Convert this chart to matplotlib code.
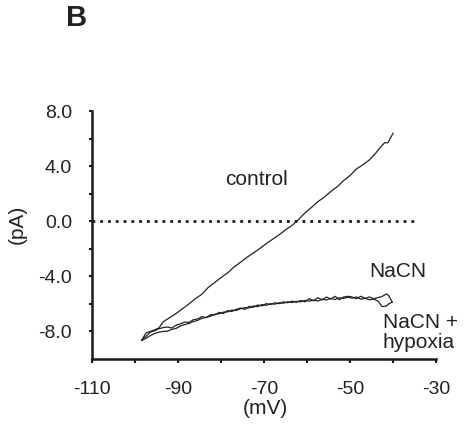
import matplotlib
matplotlib.use("Agg")
import matplotlib.pyplot as plt
from matplotlib.ticker import FixedLocator

plt.rcParams['font.family'] = ['Liberation Sans', 'DejaVu Sans']

# ---------------- data ----------------
control_v = [-98.5, -97.5, -96, -94.5, -93.5, -92, -90.5, -89, -87.5, -86, -84.5, -83,
             -81.5, -80, -78.5, -77, -75.5, -74, -72.5, -71, -69.5, -68, -66.5, -65,
             -63.5, -62, -60.5, -59, -57.5, -56, -54.5, -53, -51.5, -50, -48.5, -47,
             -45.5, -44, -43, -42, -41.2, -40]
control_i = [-8.65, -8.1, -7.95, -7.75, -7.3, -7.0, -6.7, -6.35, -6.0, -5.62, -5.3, -4.8,
             -4.45, -4.08, -3.75, -3.32, -2.98, -2.62, -2.3, -1.98, -1.62, -1.3, -0.98, -0.62,
             -0.3, 0.12, 0.6, 1.0, 1.42, 1.75, 2.15, 2.5, 2.95, 3.32, 3.8, 4.1,
             4.45, 4.95, 5.35, 5.69, 5.7, 6.38]

nacn_v = [-98.5, -97.5, -96.5, -95.5, -94.5, -93.5, -92.5, -91.5, -90.5, -89.5, -88.5, -87.5,
          -86.5, -85.5, -84.5, -83.5, -82.5, -81.5, -80.5, -79.5, -78.5, -77.5, -76.5, -75.5,
          -74.5, -73.5, -72.5, -71.5, -70.5, -69.5, -68.5, -67.5, -66.5, -65.5, -64.5, -63.5,
          -62.5, -61.5, -60.5, -59.5, -58.5, -57.5, -56.5, -55.5, -54.5, -53.5, -52.5, -51.5,
          -50.5, -49.5, -48.5, -47.5, -46.5, -45.5, -44.5, -43.5, -42.5, -41.5, -41.0, -40.2]
nacn_i = [-8.65, -8.35, -8.05, -7.95, -7.8, -7.72, -7.68, -7.75, -7.55, -7.45, -7.32, -7.35,
          -7.15, -7.1, -6.92, -7.0, -6.78, -6.8, -6.62, -6.7, -6.48, -6.55, -6.4, -6.3,
          -6.4, -6.18, -6.25, -6.08, -6.15, -5.98, -6.05, -5.92, -5.98, -5.85, -5.92, -5.8,
          -5.88, -5.75, -5.85, -5.62, -5.78, -5.55, -5.72, -5.5, -5.65, -5.45, -5.7, -5.5,
          -5.45, -5.5, -5.62, -5.45, -5.6, -5.5, -5.62, -5.55, -5.45, -5.28, -5.4, -5.87]

hypoxia_v = nacn_v
hypoxia_i = [-8.65, -8.5, -8.3, -8.15, -8.05, -8.0, -7.98, -7.85, -7.78, -7.6, -7.5, -7.42,
             -7.28, -7.2, -7.05, -6.98, -6.9, -6.75, -6.72, -6.6, -6.58, -6.45, -6.48, -6.35,
             -6.28, -6.3, -6.15, -6.2, -6.05, -6.1, -5.98, -6.02, -5.92, -5.95, -5.85, -5.9,
             -5.82, -5.85, -5.75, -5.8, -5.72, -5.8, -5.65, -5.72, -5.6, -5.68, -5.55, -5.6,
             -5.52, -5.58, -5.5, -5.65, -5.6, -5.7, -5.65, -5.8, -6.2, -6.15, -6.0, -5.87]

zero_line_v = [-110, -35]
zero_line_i = [0, 0]

x_major = [-110, -90, -70, -50, -30]
x_minor = [-100, -80, -60, -40]
y_major = [-8, -4, 0, 4, 8]
y_minor = [-6, -2, 2, 6]
y_labels = ["-8.0", "-4.0", "0.0", "4.0", "8.0"]
x_labels = ["-110", "-90", "-70", "-50", "-30"]

# ---------------- figure ----------------
W, H = 472, 425
fig = plt.figure(figsize=(W / 100, H / 100), dpi=100)
ax = fig.add_axes([92.3 / W, 1 - 359 / H, (436 - 92.3) / W, (359 - 111) / H])

line_col = '#222222'
ax.plot(control_v, control_i, color=line_col, lw=0.9)
ax.plot(nacn_v, nacn_i, color=line_col, lw=0.9)
ax.plot(hypoxia_v, hypoxia_i, color=line_col, lw=0.9)
ax.plot(zero_line_v, zero_line_i, color='#1a1a1a', lw=2.0, linestyle=(0, (1, 1.8)),
        dash_capstyle='butt')

ax.set_xlim(-110, -30)
ax.set_ylim(-10, 8)
for s in ['top', 'right']:
    ax.spines[s].set_visible(False)
for s in ['left', 'bottom']:
    ax.spines[s].set_linewidth(1.8)
    ax.spines[s].set_color('#1a1a1a')

ax.xaxis.set_major_locator(FixedLocator(x_major))
ax.xaxis.set_minor_locator(FixedLocator(x_minor))
ax.yaxis.set_major_locator(FixedLocator(y_major))
ax.yaxis.set_minor_locator(FixedLocator(y_minor))
ax.set_xticklabels(x_labels)
ax.set_yticklabels(y_labels)
ax.tick_params(axis='x', which='both', direction='out', length=3, width=1.5,
               color='#1a1a1a', labelsize=14, pad=13, labelcolor='#222222')
ax.tick_params(axis='y', which='both', direction='out', length=2.5, width=1.5,
               color='#1a1a1a', labelsize=14, pad=12, labelcolor='#222222')

tc = '#222222'
def ftext(x, y, s, **kw):
    fig.text(x / W, 1 - y / H, s, color=tc, **kw)

ftext(76.3, 18.3, "B", fontsize=21, fontweight='bold', ha='center', va='center')
ftext(256, 185, "control", fontsize=15, ha='center', va='baseline')
ftext(369.3, 277.3, "NaCN", fontsize=15, ha='left', va='baseline')
ftext(382.7, 328.3, "NaCN +", fontsize=15, ha='left', va='baseline')
ftext(382.7, 348.3, "hypoxia", fontsize=15, ha='left', va='baseline')
ftext(17.5, 224, "(pA)", fontsize=15, ha='center', va='center', rotation=90)
ftext(265, 409, "(mV)", fontsize=15, ha='center', va='center')

fig.savefig("out.png", dpi=100)
